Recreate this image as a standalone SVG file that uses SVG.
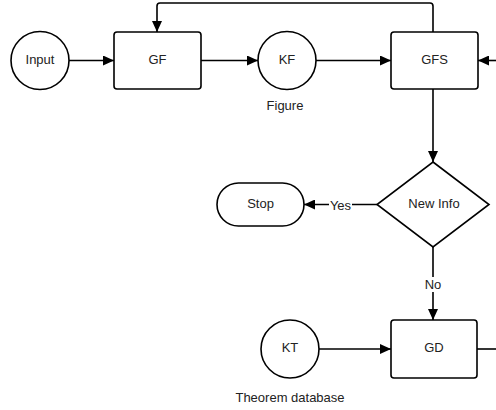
<svg xmlns="http://www.w3.org/2000/svg" width="496" height="410" viewBox="0 0 496 410">
<style>
.s{fill:#fff;stroke:#000;stroke-width:1.6}
.c{fill:none;stroke:#000;stroke-width:1.6}
text{font-family:"Liberation Sans",Arial,sans-serif;font-size:13px;fill:#222;text-anchor:middle;dominant-baseline:central}
</style>
<defs>
<marker id="a" markerWidth="12" markerHeight="10" refX="11" refY="5" orient="auto" markerUnits="userSpaceOnUse">
<path d="M0,0 L11,5 L0,10 Z" fill="#000"/>
</marker>
</defs>
<rect width="496" height="410" fill="#fff"/>
<g id="connectors">
<path class="c" d="M69,60.5 H114" marker-end="url(#a)"/>
<path class="c" d="M201,60.5 H258" marker-end="url(#a)"/>
<path class="c" d="M316,60.5 H391" marker-end="url(#a)"/>
<path class="c" d="M496,60.5 H478" marker-end="url(#a)"/>
<path class="c" d="M433,32 V6 Q433,3 430,3 H160 Q157,3 157,6 V32" marker-end="url(#a)"/>
<path class="c" d="M433,89 V162" marker-end="url(#a)"/>
<path class="c" d="M377,204.5 H352 M329,204.5 H304" marker-end="url(#a)"/>
<path class="c" d="M433,247 V277 M433,292 V320" marker-end="url(#a)"/>
<path class="c" d="M319,349 H391" marker-end="url(#a)"/>
<path class="c" d="M477,349 H496"/>
<text x="340.5" y="205">Yes</text>
<text x="433" y="284.5">No</text>
</g>
<g id="input"><circle class="s" cx="40" cy="60.5" r="29"/><text x="40" y="59">Input</text></g>
<g id="gf"><rect class="s" x="114" y="32" width="87" height="57" rx="3"/><text x="157.5" y="59">GF</text></g>
<g id="kf"><circle class="s" cx="287" cy="60.5" r="29"/><text x="287" y="59">KF</text><text x="285" y="105">Figure</text></g>
<g id="gfs"><rect class="s" x="391" y="32" width="87" height="57" rx="3"/><text x="434.5" y="59">GFS</text></g>
<g id="newinfo"><path class="s" d="M433,162 L489,204.5 L433,247 L377,204.5 Z"/><text x="434" y="203">New Info</text></g>
<g id="stop"><rect class="s" x="217" y="183" width="87" height="43" rx="21.5"/><text x="260.5" y="203">Stop</text></g>
<g id="kt"><circle class="s" cx="290" cy="349" r="29"/><text x="290" y="347">KT</text><text x="290" y="397">Theorem database</text></g>
<g id="gd"><rect class="s" x="391" y="320" width="86" height="58" rx="3"/><text x="434" y="347">GD</text></g>
</svg>
